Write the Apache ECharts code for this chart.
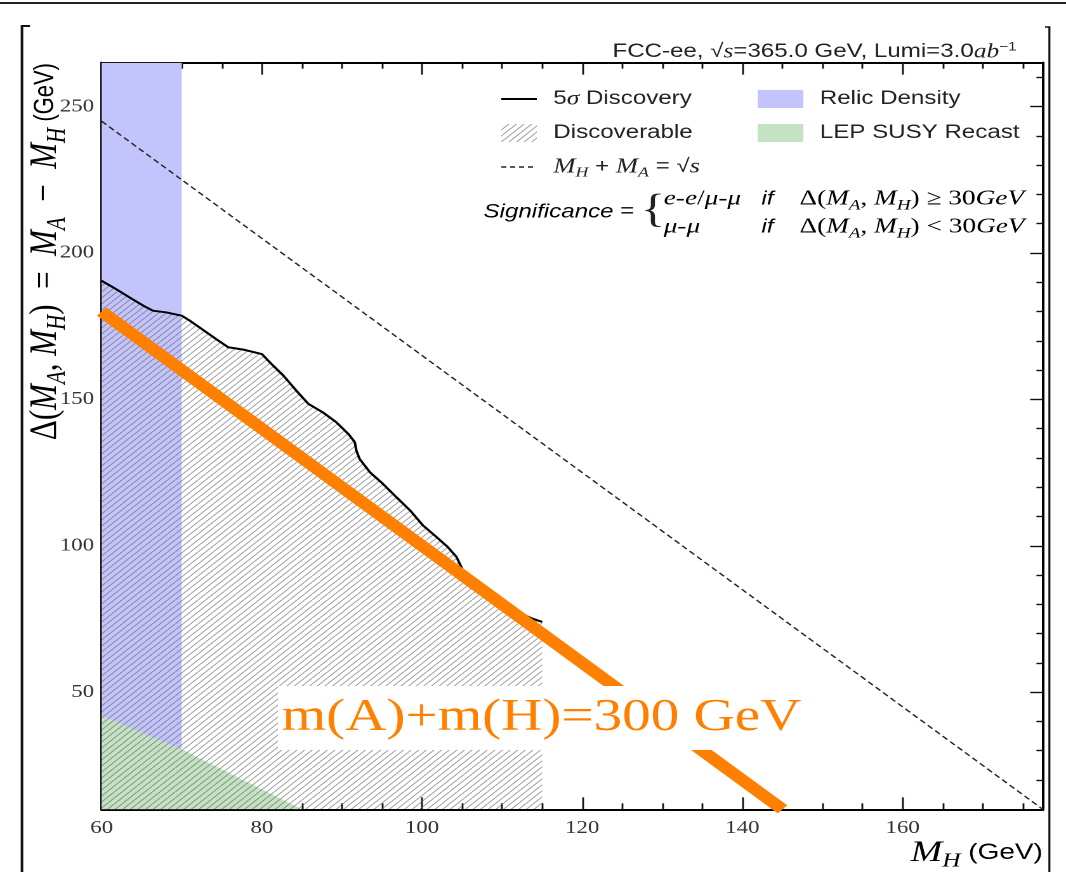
<!DOCTYPE html>
<html><head><meta charset="utf-8">
<script src="https://cdn.jsdelivr.net/npm/echarts@6/dist/echarts.min.js"></script>
<style>
html,body{margin:0;padding:0;background:#fff;overflow:hidden;}
#wrap{width:1066px;height:872px;overflow:hidden;position:relative;background:#fff;}
#chart{width:840px;height:872px;transform:scaleX(1.2690476);transform-origin:0 0;}
</style></head><body><div id="wrap"><div id="chart"></div></div>
<script>
// ---------- data ----------
const X_MIN = 60, X_MAX = 177.5, Y_MIN = 10, Y_MAX = 265;
const xMajorTicks = [60, 80, 100, 120, 140, 160];
const xMinorTicks = [65, 70, 75, 85, 90, 95, 105, 110, 115, 125, 130, 135, 145, 150, 155, 165, 170, 175];
const yMajorTicks = [50, 100, 150, 200, 250];
const yMinorTicks = [20, 30, 40, 60, 70, 80, 90, 110, 120, 130, 140, 160, 170, 180, 190, 210, 220, 230, 240, 260];

const discoveryMH    = [60, 61.6, 63.5, 65.2, 66.4, 68.1, 70, 71, 73.1, 74.3, 75.8, 77.7, 80, 81.2, 82.7, 84.3, 85.8, 87.6, 89.3, 90.8, 91.6, 91.8, 92.2, 93.5, 95.1, 96.8, 98.5, 100.1, 101.8, 103.2, 104.3, 105.1, 106.5, 108.5, 110.5, 112.3, 113.7, 115];
const discoveryDelta = [190.5, 188, 184.8, 182, 180.3, 179.7, 178.6, 176.9, 172.9, 170.6, 167.8, 167, 165.5, 162.1, 158.1, 153, 148.5, 145.6, 142.2, 138.2, 135.4, 132.5, 129.7, 125.1, 121.2, 116.6, 112.1, 107, 103, 99.6, 96.2, 91.6, 88.3, 84.3, 80.3, 76.9, 75.2, 74];

const relicMH = [60, 70];
const relicDelta = [265, 265];
const lepMH = [60, 70, 85];
const lepDelta = [42, 30.5, 10];
const sqrtsLineMH = [60, 177.5];
const sqrtsLineDelta = [245, 10];
const line300MH = [60, 145];
const line300Delta = [180, 10];

const zip = (a, b) => a.map((v, i) => [v, b[i]]);

// ---------- pattern / icons ----------
function hatchCanvas(w, h, step, scale, color) {
  const c = document.createElement('canvas');
  c.width = w * scale; c.height = h * scale;
  const g = c.getContext('2d');
  g.scale(scale, scale);
  g.strokeStyle = color; g.lineWidth = 0.9;
  for (let k = -h - step; k < w + h + step; k += step) {
    g.beginPath(); g.moveTo(k, h); g.lineTo(k + h, 0); g.stroke();
  }
  return c;
}
function lineIcon(w, h, scale, color, width, dash) {
  const c = document.createElement('canvas');
  c.width = w * scale; c.height = h * scale;
  const g = c.getContext('2d');
  g.scale(scale, scale);
  g.strokeStyle = color; g.lineWidth = width;
  if (dash) g.setLineDash(dash);
  g.beginPath(); g.moveTo(0, h / 2); g.lineTo(w, h / 2); g.stroke();
  return 'image://' + c.toDataURL();
}
const tile = hatchCanvas(6, 6, 6, 2, 'rgba(95,95,95,0.6)');
const hatchPattern = { image: tile, repeat: 'repeat', scaleX: 0.5, scaleY: 0.5 };
const hatchIcon = 'image://' + hatchCanvas(28, 18, 6, 2, 'rgba(130,130,130,0.75)').toDataURL();
const solidIcon = lineIcon(28, 18, 2, '#000', 2, null);
const dashedIcon = lineIcon(28, 18, 2, '#222', 1.4, [4, 3]);

const BLUE = '#c4c4fc', GREEN = '#c4e2c4', ORANGE = '#ff8000';
const SERIF = '"Liberation Serif", "Times New Roman", serif';
const SANS = '"Liberation Sans", Arial, sans-serif';

// ---------- axes ----------
function axisCommon(ticks, len, withLabels, isX) {
  return {
    type: 'value',
    min: isX ? X_MIN : Y_MIN, max: isX ? X_MAX : Y_MAX,
    axisLine: { show: true, onZero: false, lineStyle: { color: '#000', width: 2 } },
    axisTick: { show: true, inside: true, length: len, customValues: ticks, lineStyle: { color: '#111', width: 1.4 } },
    axisLabel: withLabels ? {
      show: true, customValues: ticks, fontFamily: SERIF, fontSize: 18, color: '#333', margin: isX ? 10 : 6,
      formatter: v => '{n|' + v + '}',
      rich: { n: { fontFamily: SERIF, fontSize: 18, color: '#333' } }
    } : { show: false },
    splitLine: { show: false }
  };
}
const xAxes = [
  Object.assign(axisCommon(xMajorTicks, 12, true, true), { position: 'bottom' }),
  Object.assign(axisCommon(xMinorTicks, 6, false, true), { position: 'bottom' }),
  Object.assign(axisCommon(xMajorTicks, 12, false, true), { position: 'top' }),
  Object.assign(axisCommon(xMinorTicks, 6, false, true), { position: 'top' })
];
const yAxes = [
  Object.assign(axisCommon(yMajorTicks, 10, true, false), { position: 'left' }),
  Object.assign(axisCommon(yMinorTicks, 5, false, false), { position: 'left' }),
  Object.assign(axisCommon(yMajorTicks, 10, false, false), { position: 'right' }),
  Object.assign(axisCommon(yMinorTicks, 5, false, false), { position: 'right' })
];

// ---------- text styles ----------
const legendRich = {
  g: { fontFamily: SERIF, fontStyle: 'italic', fontSize: 20, lineHeight: 24, color: '#222' },
  mi: { fontFamily: SERIF, fontStyle: 'italic', fontSize: 21, lineHeight: 26, color: '#222' },
  sub: { fontFamily: SERIF, fontStyle: 'italic', fontSize: 14, lineHeight: 26, verticalAlign: 'bottom', color: '#222' },
  t: { fontFamily: SANS, fontSize: 19, lineHeight: 26, color: '#222' }
};
const legendLabels = {
  '5σ Discovery': '5{g|σ} Discovery',
  'Discoverable': 'Discoverable',
  'MH + MA = √s': '{mi|M}{sub|H}{t| + }{mi|M}{sub|A}{t| = √}{mi|s}',
  'Relic Density': 'Relic Density',
  'LEP SUSY Recast': 'LEP SUSY Recast'
};

const mathRich = {
  r: { fontFamily: SERIF, fontSize: 21.5, lineHeight: 28, color: '#222' },
  mi: { fontFamily: SERIF, fontStyle: 'italic', fontSize: 21.5, lineHeight: 28, color: '#222' },
  sub: { fontFamily: SERIF, fontStyle: 'italic', fontSize: 15, lineHeight: 28, verticalAlign: 'bottom', color: '#222' },
  si: { fontFamily: SANS, fontStyle: 'italic', fontSize: 19, lineHeight: 28, color: '#222' },
  s: { fontFamily: SANS, fontSize: 19, lineHeight: 28, color: '#222' }
};

const option = {
  animation: false,
  backgroundColor: '#fff',
  title: {
    text: 'FCC-ee, √{it|s}=365.0 GeV, Lumi=3.0{it|ab}{sup|−1}',
    right: 34, top: 36,
    textStyle: {
      fontFamily: SANS, fontSize: 19, fontWeight: 'normal', color: '#222',
      rich: {
        it: { fontFamily: SERIF, fontStyle: 'italic', fontSize: 20, color: '#222' },
        sup: { fontFamily: SANS, fontSize: 12, verticalAlign: 'top', lineHeight: 22, color: '#222' }
      }
    }
  },
  grid: { left: 80.1, right: 18.3, top: 62.7, bottom: 62.7 },
  xAxis: xAxes,
  yAxis: yAxes,
  legend: [
    {
      data: [{ name: '5σ Discovery', icon: solidIcon }, { name: 'Discoverable', icon: hatchIcon }, { name: 'MH + MA = √s', icon: dashedIcon }],
      orient: 'vertical', left: 390, top: 81, itemWidth: 28, itemHeight: 18, itemGap: 8,
      itemStyle: { borderWidth: 0 },
      formatter: n => legendLabels[n],
      textStyle: { fontFamily: SANS, fontSize: 19, lineHeight: 26, color: '#222', padding: [0, 0, 0, 8], rich: legendRich }
    },
    {
      data: [{ name: 'Relic Density', icon: 'rect' }, { name: 'LEP SUSY Recast', icon: 'rect' }],
      orient: 'vertical', left: 592, top: 81, itemWidth: 36, itemHeight: 18, itemGap: 8,
      itemStyle: { borderWidth: 0 },
      formatter: n => legendLabels[n],
      textStyle: { fontFamily: SANS, fontSize: 19, lineHeight: 26, color: '#222', padding: [0, 0, 0, 8], rich: legendRich }
    }
  ],
  series: [
    {
      name: 'Relic Density', type: 'line', z: 1, symbol: 'none',
      data: zip(relicMH, relicDelta),
      itemStyle: { color: BLUE },
      lineStyle: { width: 0 },
      areaStyle: { color: BLUE, opacity: 1, origin: 'start' }
    },
    {
      name: 'LEP SUSY Recast', type: 'line', z: 2, symbol: 'none',
      data: zip(lepMH, lepDelta),
      itemStyle: { color: GREEN },
      lineStyle: { width: 0 },
      areaStyle: { color: GREEN, opacity: 1, origin: 'start' }
    },
    {
      name: 'Discoverable', type: 'line', z: 3, symbol: 'none',
      data: zip(discoveryMH, discoveryDelta),
      itemStyle: { color: '#888' },
      lineStyle: { width: 0 },
      areaStyle: { color: hatchPattern, opacity: 1, origin: 'start' }
    },
    {
      name: '5σ Discovery', type: 'line', z: 4, symbol: 'none',
      data: zip(discoveryMH, discoveryDelta),
      itemStyle: { color: '#000' },
      lineStyle: { color: '#000', width: 2 }
    },
    {
      name: 'MH + MA = √s', type: 'line', z: 4, symbol: 'none',
      data: zip(sqrtsLineMH, sqrtsLineDelta),
      itemStyle: { color: '#222' },
      lineStyle: { color: '#222', width: 1.3, type: [5, 3] }
    },
    {
      name: 'm(A)+m(H)=300 GeV', type: 'line', z: 5, symbol: 'none',
      data: zip(line300MH, line300Delta),
      itemStyle: { color: ORANGE },
      lineStyle: { color: ORANGE, width: 11, cap: 'butt' }
    }
  ],
  graphic: [
    // page frame
    { type: 'line', z: 50, shape: { x1: 0, y1: 3, x2: 840, y2: 3 }, style: { stroke: '#222', lineWidth: 2 } },
    { type: 'polyline', z: 50, shape: { points: [[23.6, 26], [17.3, 26], [17.3, 872]] }, style: { stroke: '#111', lineWidth: 2, fill: null } },
    { type: 'polyline', z: 50, shape: { points: [[823.5, 27], [826.9, 27], [826.9, 872]] }, style: { stroke: '#111', lineWidth: 1.6, fill: null } },
    // y axis title (rotated)
    {
      type: 'text', z: 60, x: 36, y: 63, rotation: Math.PI / 2,
      style: {
        text: '{r|Δ(}{mi|M}{sub|A}{r|, }{mi|M}{sub|H}{r|)  =  }{mi|M}{sub|A}{r|  −  }{mi|M}{sub|H}{s| (GeV)}',
        align: 'right', verticalAlign: 'middle',
        rich: {
          r: { fontFamily: SERIF, fontSize: 31, lineHeight: 40, color: '#222' },
          mi: { fontFamily: SERIF, fontStyle: 'italic', fontSize: 31, lineHeight: 40, color: '#222' },
          sub: { fontFamily: SERIF, fontStyle: 'italic', fontSize: 21, lineHeight: 40, verticalAlign: 'bottom', color: '#222' },
          s: { fontFamily: SANS, fontSize: 22, lineHeight: 40, color: '#222' }
        }
      }
    },
    // x axis title
    {
      type: 'text', z: 60, x: 821.7, y: 853,
      style: {
        text: '{mi|M}{sub|H}{s| (GeV)}',
        align: 'right', verticalAlign: 'middle',
        rich: {
          mi: { fontFamily: SERIF, fontStyle: 'italic', fontSize: 30, lineHeight: 36, color: '#222' },
          sub: { fontFamily: SERIF, fontStyle: 'italic', fontSize: 20, lineHeight: 36, verticalAlign: 'bottom', color: '#222' },
          s: { fontFamily: SANS, fontSize: 22, lineHeight: 36, color: '#222' }
        }
      }
    },
    // significance definition
    { type: 'text', z: 60, x: 381, y: 212, style: { text: '{si|Significance}{s| = }', verticalAlign: 'middle', rich: mathRich } },
    { type: 'text', z: 60, x: 505, y: 211, style: { text: '{', font: '40px "Liberation Serif", serif', fill: '#222', verticalAlign: 'middle' } },
    { type: 'text', z: 60, x: 523, y: 199, style: { text: '{mi|e}{r|-}{mi|e}{r|/}{mi|μ}{r|-}{mi|μ}', verticalAlign: 'middle', rich: mathRich } },
    { type: 'text', z: 60, x: 523, y: 227, style: { text: '{mi|μ}{r|-}{mi|μ}', verticalAlign: 'middle', rich: mathRich } },
    { type: 'text', z: 60, x: 600, y: 199, style: { text: '{si|if}', verticalAlign: 'middle', rich: mathRich } },
    { type: 'text', z: 60, x: 600, y: 227, style: { text: '{si|if}', verticalAlign: 'middle', rich: mathRich } },
    { type: 'text', z: 60, x: 630, y: 199, style: { text: '{r|Δ(}{mi|M}{sub|A}{r|, }{mi|M}{sub|H}{r|) ≥ 30}{mi|GeV}', verticalAlign: 'middle', rich: mathRich } },
    { type: 'text', z: 60, x: 630, y: 227, style: { text: '{r|Δ(}{mi|M}{sub|A}{r|, }{mi|M}{sub|H}{r|) < 30}{mi|GeV}', verticalAlign: 'middle', rich: mathRich } },
    // orange annotation
    {
      type: 'text', z: 80, x: 219, y: 718,
      style: {
        text: 'm(A)+m(H)=300 GeV', font: '45px "Liberation Serif", serif', lineHeight: 56, fill: ORANGE,
        backgroundColor: '#ffffff', padding: [4, 12, 4, 3], align: 'left', verticalAlign: 'middle'
      }
    }
  ]
};
const chart = echarts.init(document.getElementById('chart'), null, { renderer: 'canvas', devicePixelRatio: 2 });
chart.setOption(option);
</script>
</body></html>
